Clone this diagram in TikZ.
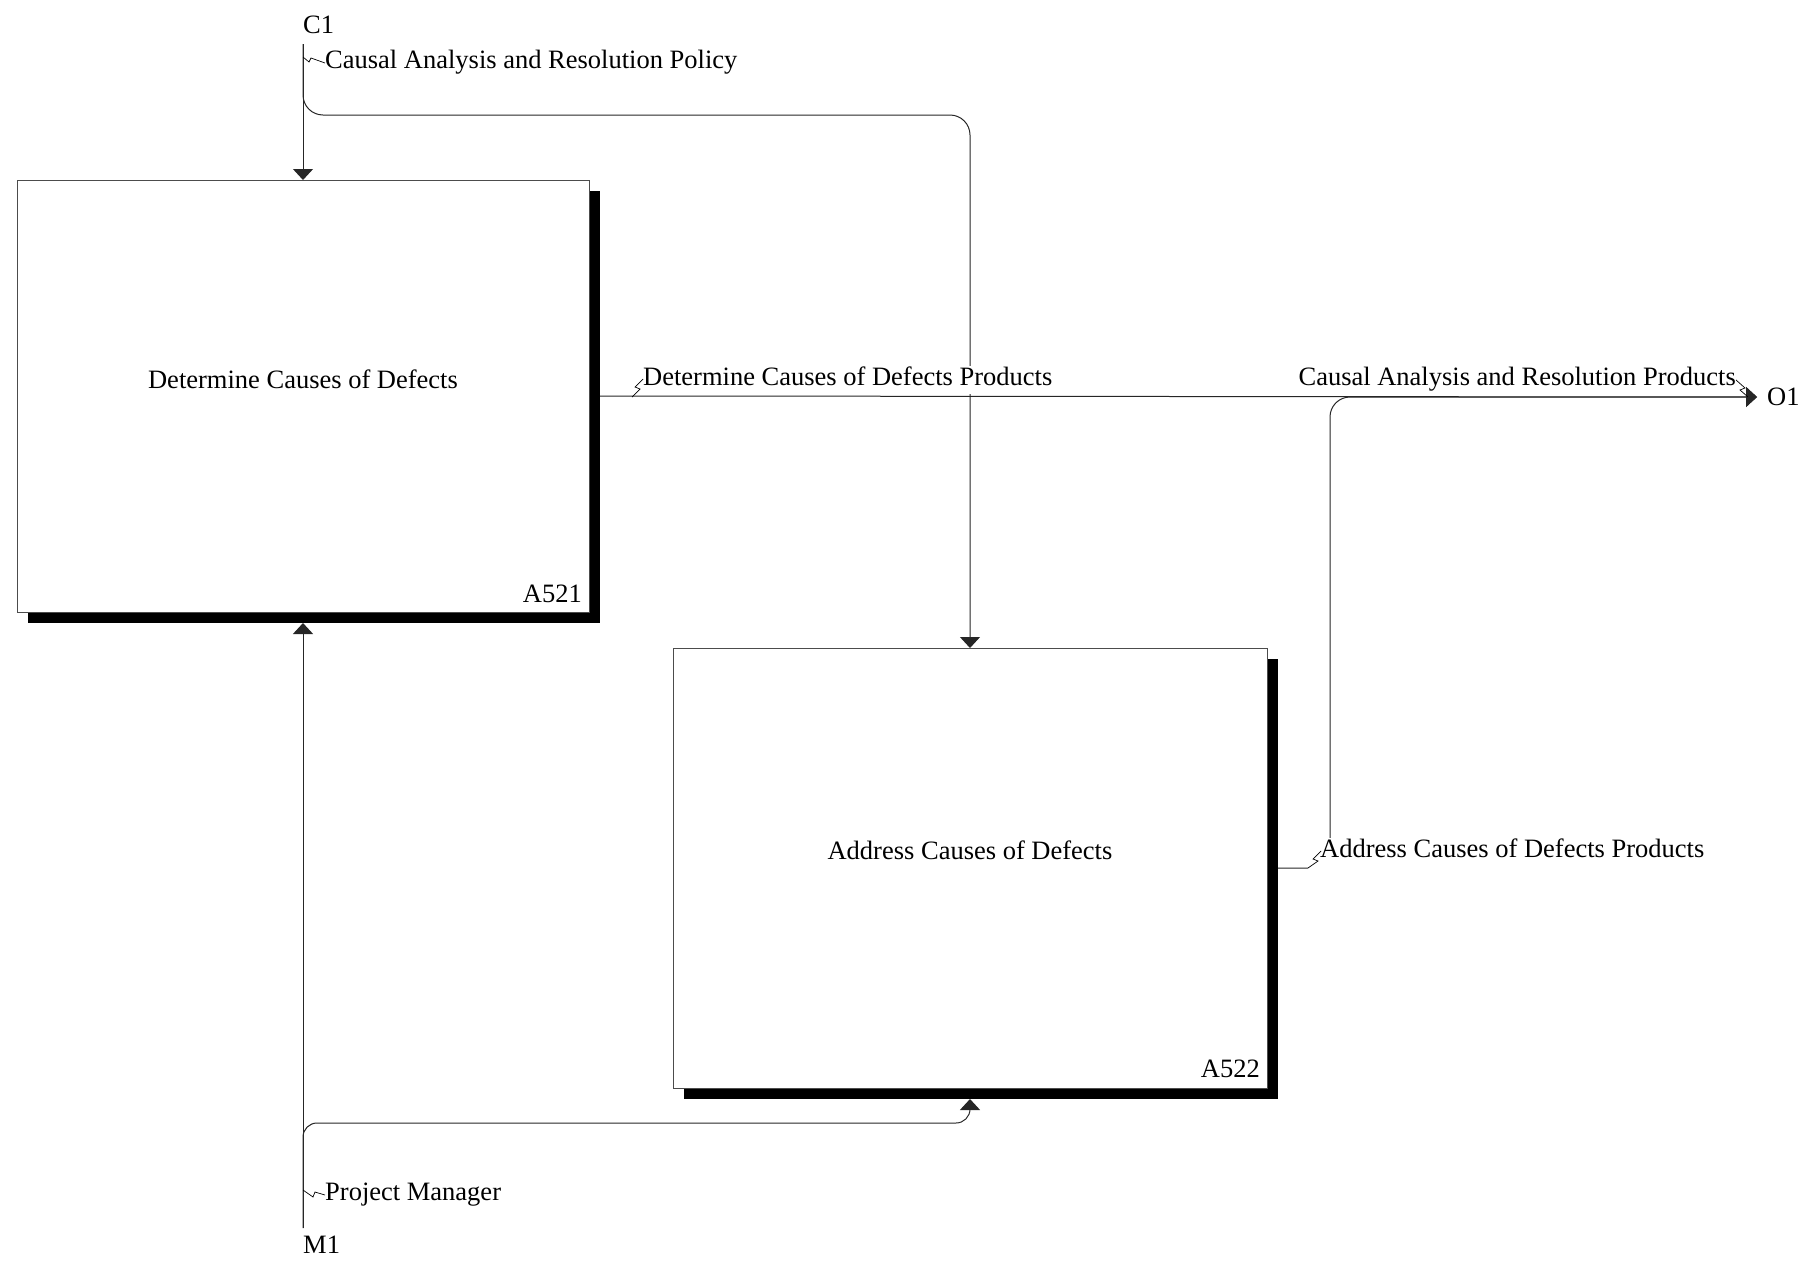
\documentclass[tikz,border=0pt]{standalone}
\usepackage{fontspec}
\setmainfont{Liberation Serif}
\usepackage{tikz}
\usetikzlibrary{positioning,arrows.meta,calc,shadows}
\tikzset{
  idef-box/.style={draw=black!70,line width=0.9pt,fill=white,anchor=north west,
    inner sep=0pt,outer sep=0pt,
    drop shadow={shadow xshift=11pt,shadow yshift=-11pt,opacity=1,fill=black}},
  idef-title/.style={anchor=base,inner sep=0pt},
  idef-num/.style={anchor=base east,inner sep=0pt},
  port/.style={anchor=base west,inner sep=0pt},
  flow/.style={line width=1pt,draw=black!85},
  arrow-flow/.style={flow,-{Triangle[length=11pt,width=20pt]}},
  flow-label/.style={fill=white,inner xsep=0pt,inner ysep=0pt,anchor=base west,
    text height=19pt,text depth=9pt},
  tunnel/.style={line width=0.7pt,draw=black},
}

\begin{document}
\begin{tikzpicture}[x=1pt,y=-1pt,every node/.style={font=\fontsize{26.5}{30}\selectfont}]
  \useasboundingbox (0,0) rectangle (1818,1267);
  % activities
  \node[idef-box,minimum width=572pt,minimum height=432pt] (A521) at (17,180) {};
  \node[idef-box,minimum width=594pt,minimum height=440pt] (A522) at (673,648) {};
  \node[idef-title] (A521-name) at ($(A521.center)+(0,-8)$) {Determine Causes of Defects};
  \node[idef-title] (A522-name) at ($(A522.center)+(0,-9)$) {Address Causes of Defects};
  \node[idef-num] (A521-num) at ($(A521.south east)+(-7,-10)$) {A521};
  \node[idef-num] (A522-num) at ($(A522.south east)+(-7,-11)$) {A522};

  % boundary
  \node[port] (C1) at (303,33) {C1};
  \node[port] (M1) at (303,1253) {M1};
  \node[port] (O1) at (1767,405) {O1};
  \coordinate (c1) at (303,44);
  \coordinate (m1) at (303,1228);
  \coordinate (o1) at (1757,397);
  \coordinate (c1-bend) at (0,115);
  \coordinate (m1-bend) at (0,1123);
  \coordinate (a522-turn) at (1330,397);

  % arrows
  \draw[arrow-flow] (c1) -- (c1 |- A521.north);
  \draw[arrow-flow,rounded corners=20pt] (c1) |- (A522.north |- c1-bend) -- (A522.north);
  \draw[arrow-flow] (m1) -- ($(A521.south)+(0,11)$);
  \draw[arrow-flow,rounded corners=14pt] (m1) |- (A522.south |- m1-bend) -- ($(A522.south)+(0,11)$);
  \draw[arrow-flow] ($(A521.east)+(11,0)$) -- (o1);
  \draw[arrow-flow,rounded corners=20pt] ($(A522.east)+(11,0)$) -| (a522-turn) -- (o1);

  % arrow labels
  \node[flow-label] (lbl-policy) at (325,68) {Causal Analysis and Resolution Policy};
  \node[flow-label] (lbl-det) at (643,385) {Determine Causes of Defects Products};
  \node[flow-label,anchor=base east] (lbl-car) at (1736,385) {Causal Analysis and Resolution Products};
  \node[flow-label,inner xsep=12pt,text depth=14pt] (lbl-addr) at (1308,857) {Address Causes of Defects Products};
  \node[flow-label] (lbl-pm) at (325,1200) {Project Manager};

  \draw[tunnel] (303,57) -- (309,62) -- (311,58) -- (lbl-policy.west);
  \draw[tunnel] (632,397) -- (640,389) -- (635,387) -- (643,379);
  \draw[tunnel] (lbl-car.east) -- (1745,388) -- (1740,390) -- (1748,397);
  \draw[tunnel] (1308,868) -- (1318,861) -- (1313,859) -- (1321,851);
  \draw[tunnel] (303,1190) -- (313,1197) -- (315,1192) -- (lbl-pm.west);
\end{tikzpicture}
\end{document}
